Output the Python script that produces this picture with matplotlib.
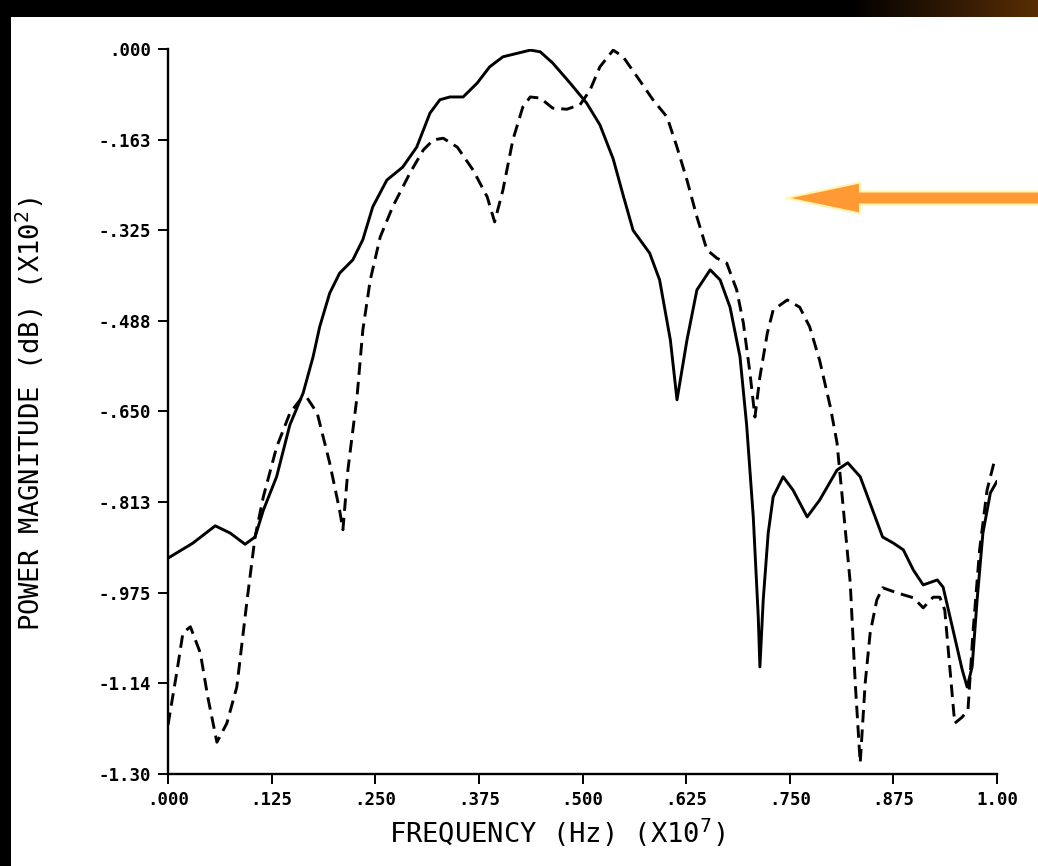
import numpy as np
import matplotlib
matplotlib.use('Agg')
import matplotlib.pyplot as plt
from matplotlib.patches import FancyArrow, Rectangle

# Solid curve: frequency in 1e7 Hz, magnitude in 1e2 dB
freq_solid = [0.000, 0.030, 0.057, 0.075, 0.093, 0.105, 0.115, 0.131, 0.147, 0.163,
              0.175, 0.183, 0.195, 0.207, 0.223, 0.235, 0.247, 0.264, 0.283, 0.300,
              0.316, 0.328, 0.340, 0.356, 0.373, 0.388, 0.404, 0.437, 0.449, 0.464,
              0.485, 0.505, 0.521, 0.537, 0.549, 0.561, 0.581, 0.593, 0.606, 0.614,
              0.626, 0.638, 0.654, 0.666, 0.678, 0.690, 0.698, 0.706, 0.712, 0.714,
              0.718, 0.724, 0.730, 0.742, 0.754, 0.771, 0.786, 0.807, 0.820, 0.835,
              0.850, 0.862, 0.875, 0.887, 0.899, 0.911, 0.928, 0.935, 0.947, 0.958,
              0.964, 0.970, 0.976, 0.983, 0.992, 1.000]
mag_solid = [-0.913, -0.886, -0.855, -0.868, -0.888, -0.875, -0.827, -0.767, -0.674, -0.617,
             -0.552, -0.498, -0.438, -0.402, -0.378, -0.342, -0.283, -0.235, -0.212, -0.176,
             -0.115, -0.091, -0.086, -0.086, -0.061, -0.032, -0.014, -0.002, -0.005, -0.025,
             -0.061, -0.097, -0.136, -0.197, -0.262, -0.325, -0.366, -0.414, -0.522, -0.629,
             -0.522, -0.432, -0.396, -0.414, -0.463, -0.552, -0.674, -0.839, -1.018, -1.108,
             -0.988, -0.868, -0.803, -0.767, -0.791, -0.839, -0.809, -0.755, -0.742, -0.767,
             -0.827, -0.875, -0.886, -0.898, -0.934, -0.961, -0.952, -0.965, -1.042, -1.113,
             -1.144, -1.108, -0.988, -0.868, -0.796, -0.775]

# Dashed curve
freq_dashed = [0.000, 0.011, 0.018, 0.027, 0.039, 0.048, 0.059, 0.071, 0.083, 0.095,
               0.105, 0.115, 0.131, 0.147, 0.162, 0.168, 0.180, 0.195, 0.207, 0.211,
               0.217, 0.220, 0.228, 0.235, 0.244, 0.256, 0.271, 0.292, 0.308, 0.320,
               0.332, 0.349, 0.368, 0.385, 0.394, 0.404, 0.416, 0.428, 0.437, 0.449,
               0.464, 0.481, 0.497, 0.509, 0.521, 0.537, 0.549, 0.566, 0.585, 0.602,
               0.614, 0.626, 0.638, 0.650, 0.662, 0.674, 0.686, 0.694, 0.702, 0.708,
               0.714, 0.723, 0.730, 0.747, 0.762, 0.774, 0.786, 0.799, 0.807, 0.814,
               0.823, 0.829, 0.835, 0.841, 0.847, 0.855, 0.862, 0.879, 0.899, 0.911,
               0.923, 0.931, 0.937, 0.943, 0.949, 0.958, 0.965, 0.971, 0.979, 0.988,
               0.998]
mag_dashed = [-1.212, -1.114, -1.047, -1.036, -1.083, -1.162, -1.243, -1.209, -1.144, -0.993,
              -0.875, -0.803, -0.714, -0.653, -0.624, -0.626, -0.653, -0.742, -0.827, -0.862,
              -0.755, -0.719, -0.624, -0.504, -0.414, -0.337, -0.283, -0.222, -0.181, -0.163,
              -0.160, -0.176, -0.217, -0.265, -0.310, -0.253, -0.163, -0.104, -0.086, -0.088,
              -0.106, -0.108, -0.100, -0.074, -0.032, -0.002, -0.014, -0.050, -0.091, -0.122,
              -0.176, -0.235, -0.301, -0.360, -0.375, -0.384, -0.432, -0.491, -0.581, -0.660,
              -0.588, -0.509, -0.468, -0.450, -0.463, -0.498, -0.558, -0.642, -0.706, -0.814,
              -0.958, -1.137, -1.280, -1.137, -1.047, -0.988, -0.966, -0.975, -0.984, -1.002,
              -0.983, -0.983, -1.006, -1.108, -1.209, -1.198, -1.185, -1.047, -0.898, -0.791,
              -0.732]

x_ticks = [0.0, 0.125, 0.25, 0.375, 0.5, 0.625, 0.75, 0.875, 1.0]
x_tick_labels = ['.000', '.125', '.250', '.375', '.500', '.625', '.750', '.875', '1.00']
y_ticks = [0.0, -0.1625, -0.325, -0.4875, -0.65, -0.8125, -0.975, -1.1375, -1.30]
y_tick_labels = ['.000', '-.163', '-.325', '-.488', '-.650', '-.813', '-.975', '-1.14', '-1.30']

W, H = 1038, 866
fig = plt.figure(figsize=(W / 100, H / 100), dpi=100)
fig.patch.set_facecolor('white')

ax = fig.add_axes([168 / W, 1 - 774 / H, (997 - 168) / W, (774 - 49) / H])
ax.plot(freq_solid, mag_solid, color='black', lw=2.1,
        solid_joinstyle='round', solid_capstyle='round')
ax.plot(freq_dashed, mag_dashed, color='black', lw=2.1,
        linestyle=(0, (4.3, 2.4)), dash_joinstyle='round')

ax.set_xlim(0, 1.0)
ax.set_ylim(-1.30, 0.0)
ax.set_xticks(x_ticks)
ax.set_xticklabels(x_tick_labels)
ax.set_yticks(y_ticks)
ax.set_yticklabels(y_tick_labels)
for s in ['top', 'right']:
    ax.spines[s].set_visible(False)
for s in ['left', 'bottom']:
    ax.spines[s].set_linewidth(1.7)
ax.tick_params(direction='out', length=7, width=1.4, pad=5)
for lab in ax.get_xticklabels() + ax.get_yticklabels():
    lab.set_fontfamily('DejaVu Sans Mono')
    lab.set_fontweight('bold')
    lab.set_fontsize(12.5)
ax.set_xlabel('FREQUENCY (Hz) (X10$^7$)', family='DejaVu Sans Mono', fontsize=19.5)
ax.set_ylabel('POWER MAGNITUDE (dB) (X10$^2$)', family='DejaVu Sans Mono', fontsize=19.5)
ax.xaxis.set_label_coords(0.469, -0.058)
ax.yaxis.set_label_coords(-0.147, 0.497)

# scan decorations: black frame, brown corner and orange arrow
over = fig.add_axes([0, 0, 1, 1], zorder=5)
over.add_patch(Rectangle((0, 0), W, 17, color='black', lw=0))
over.add_patch(Rectangle((0, 0), 11, H, color='black', lw=0))
grad = np.linspace(0, 1, 200)[None, :]
over.imshow(np.dstack([0.35 * grad, 0.18 * grad, 0.02 * grad]), extent=(850, W, 17, 0),
            aspect='auto', zorder=6)
over.set_xlim(0, W)
over.set_ylim(H, 0)
over.axis('off')
over.add_patch(FancyArrow(W + 5, 198, -(W + 5 - 786), 0, width=13, head_width=31,
                          head_length=74, length_includes_head=True,
                          facecolor='#ff9933', edgecolor='#fff4b0', lw=1.5, zorder=7))

fig.savefig('out.png', dpi=100)
